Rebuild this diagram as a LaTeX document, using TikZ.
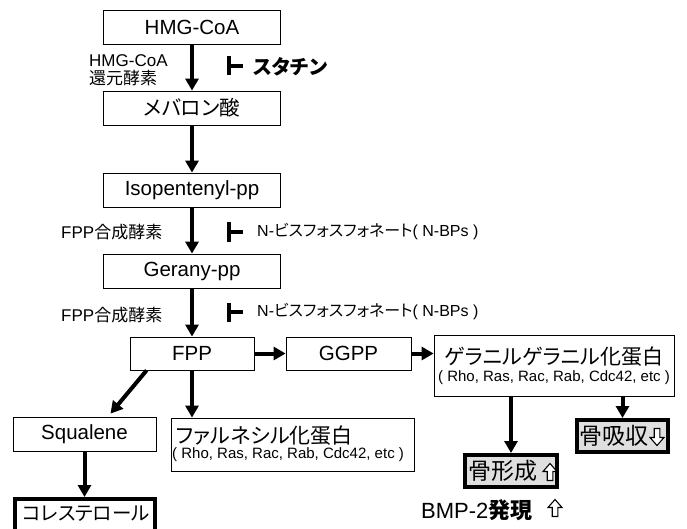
\documentclass[tikz,border=0pt]{standalone}
\usepackage{fontspec}
\setmainfont{Liberation Sans}
\newfontfamily\jp[RawFeature={+palt}]{Noto Sans CJK JP}
\usetikzlibrary{arrows.meta,calc}
\newcommand\fsz[1]{\fontsize{#1}{#1}\selectfont}
\tikzset{
  box/.style={draw, line width=0.8pt, fill=white, inner sep=0pt, font=\fsz{20.5}},
  thickbox/.style={draw, line width=4pt, fill=gray!25, inner sep=0pt},
  flow/.style={line width=4pt, -{Triangle[width=13pt,length=12pt]}},
  inhib/.style={line width=4pt},
  lbl/.style={inner sep=0pt, anchor=west, font=\fsz{17}},
  txt/.style={inner sep=0pt},
  oup/.pic={\draw[line width=1.1pt, fill=white, line join=miter]
     (-2.8,8.5) -- (-2.8,-0.5) -- (-7,-0.5) -- (0,-8.5) -- (7,-0.5) -- (2.8,-0.5) -- (2.8,8.5) -- cycle;}
}
\begin{document}
\begin{tikzpicture}[x=1pt,y=-1pt]
\useasboundingbox (0,0) rectangle (687,529);
\fill[white] (0,0) rectangle (687,529);
\clip (0,0) rectangle (687,529);

% main column
\node[box, minimum width=177pt, minimum height=34pt] (hmg) at (192,27) {HMG-CoA};
\node[box, minimum width=177pt, minimum height=34pt] (mev) at (192,108) {\jp メバロン酸};
\node[box, minimum width=177pt, minimum height=34pt] (iso) at (192,190) {Isopentenyl-pp};
\node[box, minimum width=177pt, minimum height=34pt] (ger) at (192,271) {Gerany-pp};
\node[box, minimum width=124pt, minimum height=33pt] (fpp) at (192,353.5) {FPP};
\node[box, minimum width=125pt, minimum height=33pt] (ggpp) at (348.5,353.5) {GGPP};

% geranylgeranyl protein box
\node[box, minimum width=240pt, minimum height=61pt] (gera) at (554,365.5) {};
\node[txt, font=\fsz{21}] (gerat) at (554,357) {\jp ゲラニルゲラニル化蛋白};
\node[txt, font=\fsz{15}] (geras) at (554,378) {( Rho, Ras, Rac, Rab, Cdc42, etc )};

% farnesyl protein box
\node[box, minimum width=243pt, minimum height=53pt] (far) at (292.5,444.5) {};
\node[txt, anchor=west, font=\fsz{21}] (fart) at (176,436) {\jp ファルネシル化蛋白};
\node[txt, anchor=west, font=\fsz{15}] (fars) at (172,455) {( Rho, Ras, Rac, Rab, Cdc42, etc )};

\node[box, minimum width=143pt, minimum height=34pt] (squ) at (84.5,434) {Squalene};
\node[box, line width=4pt, minimum width=140pt, minimum height=46pt] (chol) at (85,522) {};
\node[txt, font=\fsz{19.5}] (cholt) at (86,514) {\jp コレステロール};

% bone formation / resorption
\node[thickbox, minimum width=92pt, minimum height=32pt] (form) at (511,471) {};
\node[txt, font=\fsz{23}] (formt) at (503,471) {\jp 骨形成};
\pic at (550,472) {oup};
\node[thickbox, minimum width=91pt, minimum height=32pt] (resorb) at (622.5,436) {};
\node[txt, font=\fsz{23}] (resorbt) at (614,436) {\jp 骨吸収};
\pic[rotate=180] at (657,437) {oup};

\node[txt, anchor=west, font=\fsz{22}] (bmp) at (421,510) {BMP-2{\jp\bfseries 発現}};
\pic at (555,508) {oup};

% side labels
\node[lbl] (hmgl1) at (89,61) {HMG-CoA};
\node[lbl] (hmgl2) at (89,78) {\jp 還元酵素};
\node[lbl] (fppl1) at (61,232) {FPP{\jp 合成酵素}};
\node[lbl] (fppl2) at (61,315) {FPP{\jp 合成酵素}};

% inhibitors
\coordinate (st) at (229,66);
\draw[inhib] ($(st)+(0,-9.5)$) -- ($(st)+(0,9.5)$);
\draw[inhib] (st) -- ++(14,0);
\node[txt, anchor=west, font=\fsz{20}] (statin) at (253,67) {\jp\bfseries スタチン};

\coordinate (nb1) at (229,232);
\draw[inhib] ($(nb1)+(0,-9.5)$) -- ($(nb1)+(0,9.5)$);
\draw[inhib] (nb1) -- ++(14,0);
\node[txt, anchor=west, font=\fsz{16}] (nbp1) at (257,232) {N-{\jp ビスフォスフォネート}( N-BPs )};

\coordinate (nb2) at (229,312);
\draw[inhib] ($(nb2)+(0,-9.5)$) -- ($(nb2)+(0,9.5)$);
\draw[inhib] (nb2) -- ++(14,0);
\node[txt, anchor=west, font=\fsz{16}] (nbp2) at (257,312) {N-{\jp ビスフォスフォネート}( N-BPs )};

% connectors
\draw[flow] (hmg) -- (mev);
\draw[flow] (mev) -- (iso);
\draw[flow] (iso) -- (ger);
\draw[flow] (ger) -- (fpp);
\draw[flow] (fpp) -- (ggpp);
\draw[flow] (ggpp.east) -- (ggpp.east -| gera.west);
\draw[flow] (fpp.south) -- (fpp.south |- far.north);
\draw[flow] ($(fpp.south west)+(17,0)$) -- ($(squ.north)+(26,-3)$);
\draw[flow] (squ.south) -- (squ.south |- chol.north);
\draw[flow] (form.north |- gera.south) -- (form.north);
\draw[flow] (resorb.north |- gera.south) -- (resorb.north);
\end{tikzpicture}
\end{document}
